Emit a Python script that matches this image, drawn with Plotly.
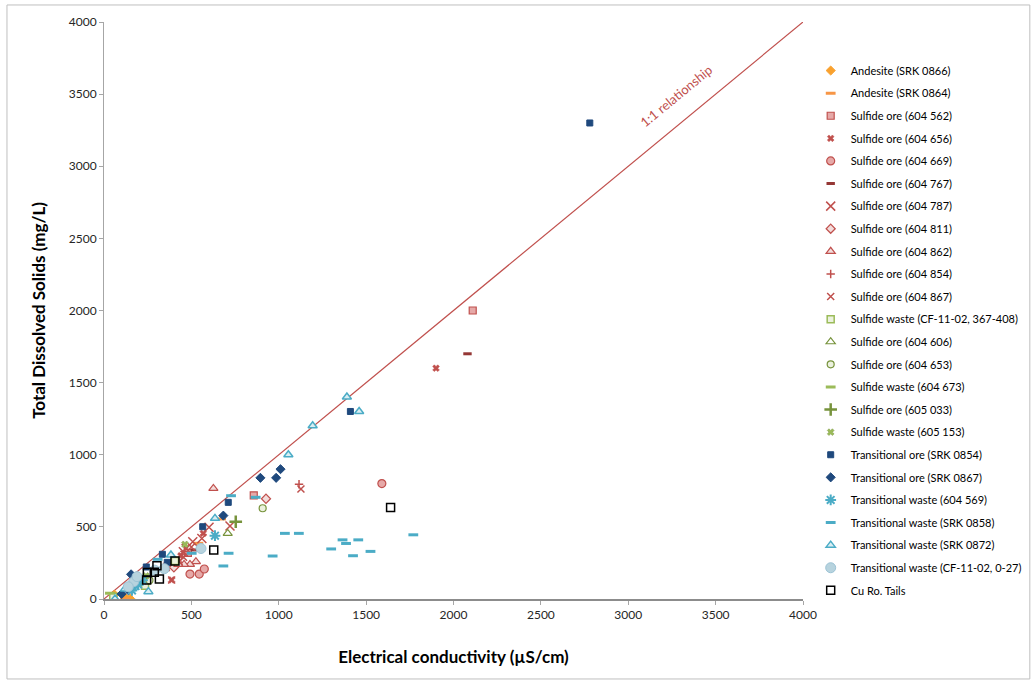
import plotly.graph_objects as go

# ---------------- data (EC in uS/cm, TDS in mg/L) ----------------
series_names = [
    "Andesite (SRK 0866)", "Andesite (SRK 0864)",
    "Sulfide ore (604 562)", "Sulfide ore (604 656)", "Sulfide ore (604 669)",
    "Sulfide ore (604 767)", "Sulfide ore (604 787)", "Sulfide ore (604 811)",
    "Sulfide ore (604 862)", "Sulfide ore (604 854)", "Sulfide ore (604 867)",
    "Sulfide waste (CF-11-02, 367-408)", "Sulfide ore (604 606)", "Sulfide ore (604 653)",
    "Sulfide waste (604 673)", "Sulfide ore (605 033)", "Sulfide waste (605 153)",
    "Transitional ore (SRK 0854)", "Transitional ore (SRK 0867)",
    "Transitional waste (604 569)", "Transitional waste (SRK 0858)",
    "Transitional waste (SRK 0872)", "Transitional waste (CF-11-02, 0-27)", "Cu Ro. Tails",
]

andesite_0866_ec = [125, 150, 60]
andesite_0866_tds = [5, 2, 30]
andesite_0864_ec = [670, 540, 120]
andesite_0864_tds = [555, 386, 2]
s562_ec = [2110, 857, 480]
s562_tds = [2000, 719, 320]
s656_ec = [1900, 568, 387, 440]
s656_tds = [1600, 455, 132, 300]
s669_ec = [1590, 492, 545, 574, 420, 360]
s669_tds = [800, 173, 173, 208, 250, 230]
s767_ec = [2080, 520]
s767_tds = [1700, 340]
s787_ec = [721, 601, 508, 454, 470, 560]
s787_tds = [506, 497, 397, 328, 350, 420]
s811_ec = [927, 400]
s811_tds = [695, 220]
s862_ec = [626, 526, 492, 458, 425, 350]
s862_tds = [767, 259, 240, 240, 240, 210]
s854_ec = [1116, 460]
s854_tds = [795, 330]
s867_ec = [1127, 387, 430, 500, 455]
s867_tds = [762, 132, 260, 360, 290]
scf_ec = [406, 53, 235]
scf_tds = [263, 16, 92]
s606_ec = [708, 190]
s606_tds = [455, 110]
s653_ec = [908, 260]
s653_tds = [629, 130]
s673_ec = [34, 150]
s673_tds = [40, 70]
s033_ec = [754]
s033_tds = [536]
s153_ec = [463, 240]
s153_tds = [379, 160]
t0854_ec = [2780, 1410, 711, 565, 334, 362, 242]
t0854_tds = [3300, 1300, 670, 501, 310, 254, 222]
t0867_ec = [1010, 895, 985, 683, 155, 101, 140]
t0867_tds = [900, 840, 840, 578, 171, 35, 60]
t569_ec = [635, 180, 160, 195, 220]
t569_tds = [439, 90, 60, 100, 130]
t0858_ec = [727, 868, 1035, 1115, 1365, 1455, 1385, 1525, 1425, 1770, 1300, 965, 713, 683, 502, 307]
t0858_tds = [716, 705, 455, 455, 410, 410, 385, 330, 300, 445, 347, 298, 317, 229, 317, 275]
t0872_ec = [1390, 1460, 1194, 1055, 635, 383, 254, 63, 120]
t0872_tds = [1400, 1300, 1201, 1000, 559, 305, 51, 0, 70]
tcf_ec = [555, 345, 170, 139, 189, 290]
tcf_tds = [350, 210, 120, 85, 155, 200]
tails_ec = [1640, 628, 406, 303, 248, 288, 244, 317]
tails_tds = [635, 340, 263, 231, 183, 185, 132, 139]

one_to_one = [0, 4000]

RED = "#C0504D"
GREEN = "#9BBB59"
NAVY = "#1F497D"
LBLUE = "#4BACC6"
ORANGE = "#F79646"

styles = [
    dict(symbol="diamond", size=7, color="#F9A12E", line=dict(color="#F9A12E", width=1)),
    dict(symbol="line-ew", size=7, color=ORANGE, line=dict(color=ORANGE, width=3)),
    dict(symbol="square", size=7, color="#E6A9A8", line=dict(color=RED, width=1.2)),
    dict(symbol="x", size=6, color=RED, line=dict(color=RED, width=0.5)),
    dict(symbol="circle", size=8, color="#E6A9A8", line=dict(color=RED, width=1.2)),
    dict(symbol="line-ew", size=6, color="#953735", line=dict(color="#953735", width=3)),
    dict(symbol="x-thin-open", size=9, color=RED, line=dict(color=RED, width=1.5)),
    dict(symbol="diamond", size=7, color="#F2DCDB", line=dict(color=RED, width=1.2)),
    dict(symbol="triangle-up", size=8, color="#F2DCDB", line=dict(color=RED, width=1.2)),
    dict(symbol="cross-thin-open", size=6, color=RED, line=dict(color=RED, width=1.5)),
    dict(symbol="x-thin-open", size=7, color=RED, line=dict(color=RED, width=1.5)),
    dict(symbol="square", size=7, color="#EBF1DE", line=dict(color=GREEN, width=1.5)),
    dict(symbol="triangle-up", size=8, color="#FFFFFF", line=dict(color="#77933C", width=1.2)),
    dict(symbol="circle", size=7, color="#EBF1DE", line=dict(color="#77933C", width=1.2)),
    dict(symbol="line-ew", size=7, color=GREEN, line=dict(color=GREEN, width=3)),
    dict(symbol="cross-thin-open", size=9, color="#77933C", line=dict(color="#77933C", width=2.5)),
    dict(symbol="x", size=6, color=GREEN, line=dict(color="#77933C", width=0.5)),
    dict(symbol="square", size=6, color=NAVY, line=dict(color=NAVY, width=1)),
    dict(symbol="diamond", size=7, color=NAVY, line=dict(color=NAVY, width=1)),
    dict(symbol="asterisk-open", size=9, color=LBLUE, line=dict(color=LBLUE, width=2)),
    dict(symbol="line-ew", size=7, color=LBLUE, line=dict(color=LBLUE, width=3)),
    dict(symbol="triangle-up", size=8, color="#DAEEF3", line=dict(color=LBLUE, width=1.5)),
    dict(symbol="circle", size=10, color="#B7D3DE", line=dict(color="#9CC3D5", width=1)),
    dict(symbol="square-open", size=8, color="#000000", line=dict(color="#000000", width=1.5)),
]

xs = [andesite_0866_ec, andesite_0864_ec, s562_ec, s656_ec, s669_ec, s767_ec, s787_ec,
      s811_ec, s862_ec, s854_ec, s867_ec, scf_ec, s606_ec, s653_ec, s673_ec, s033_ec,
      s153_ec, t0854_ec, t0867_ec, t569_ec, t0858_ec, t0872_ec, tcf_ec, tails_ec]
ys = [andesite_0866_tds, andesite_0864_tds, s562_tds, s656_tds, s669_tds, s767_tds, s787_tds,
      s811_tds, s862_tds, s854_tds, s867_tds, scf_tds, s606_tds, s653_tds, s673_tds, s033_tds,
      s153_tds, t0854_tds, t0867_tds, t569_tds, t0858_tds, t0872_tds, tcf_tds, tails_tds]

FONT = "Lato, 'Open Sans', sans-serif"

fig = go.Figure()
fig.add_trace(go.Scatter(x=one_to_one, y=one_to_one, mode="lines",
                         line=dict(color=RED, width=1.2), showlegend=False, hoverinfo="skip"))

for i, (name, x, y, st) in enumerate(zip(series_names, xs, ys, styles)):
    fig.add_trace(go.Scatter(
        x=x, y=y, mode="markers", name=name, legendgroup=f"g{i}",
        marker=dict(symbol=st["symbol"], size=st["size"], color=st["color"], line=st["line"]),
    ))

fig.add_annotation(x=3273, y=3487, xref="x", yref="y", text="1:1 relationship",
                   showarrow=False, textangle=-39.5,
                   font=dict(family=FONT, size=13, color=RED))

axis_common = dict(range=[0, 4000], dtick=500, showgrid=False, zeroline=False,
                   ticks="outside", ticklen=4, tickcolor="#A6A6A6",
                   tickfont=dict(family=FONT, size=12, color="#262626"))

fig.update_layout(
    width=1032, height=681,
    margin=dict(l=104, r=229, t=22, b=82, autoexpand=False),
    paper_bgcolor="white", plot_bgcolor="white",
    font=dict(family=FONT, color="#000000"),
    xaxis=dict(**axis_common, showline=True, linecolor="#8C8C8C", linewidth=2,
               title=dict(text="<b>Electrical conductivity (µS/cm)</b>",
                          font=dict(family=FONT, size=17, color="#000000"), standoff=30)),
    yaxis=dict(**axis_common, showline=True, linecolor="#A6A6A6", linewidth=1,
               title=dict(text="<b>Total Dissolved Solids (mg/L)</b>",
                          font=dict(family=FONT, size=17, color="#000000"), standoff=18)),
    legend=dict(x=0.011, xanchor="left", y=0.941, yanchor="top", xref="paper",
                font=dict(family=FONT, size=11, color="#000000"),
                tracegroupgap=3.6, itemwidth=30, bgcolor="rgba(0,0,0,0)"),
    shapes=[dict(type="rect", xref="paper", yref="paper",
                 x0=-0.1388, x1=1.3245, y0=-0.1386, y1=1.0295,
                 line=dict(color="#BFBFBF", width=1), fillcolor="rgba(0,0,0,0)", layer="below")],
)
# legend x is given relative to the plot area's right edge
fig.update_layout(legend_x=1.0 + 0.011)

fig.write_html("out.html")
